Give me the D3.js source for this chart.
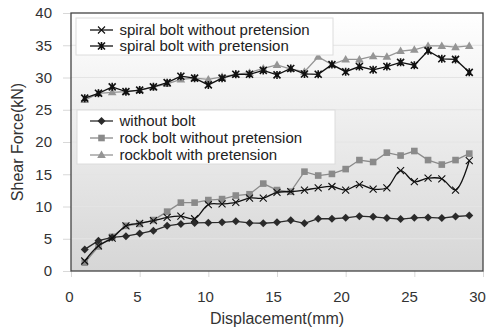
<!DOCTYPE html>
<html><head><meta charset="utf-8">
<script src="https://cdn.jsdelivr.net/npm/d3@7"></script>
<style>
html,body{margin:0;padding:0;background:#fff;}
svg{display:block;font-family:"Liberation Sans",Arial,sans-serif;}
</style></head>
<body><svg id="chart" width="490" height="329"></svg>
<script>
const displacement = [1,2,3,4,5,6,7,8,9,10,11,12,13,14,15,16,17,18,19,20,21,22,23,24,25,26,27,28,29];
const spiralWithout = [1.55,3.9,5.1,7.0,7.4,7.8,8.3,8.5,8.1,10.3,10.4,10.65,11.3,11.3,12.2,12.3,12.55,12.9,13.1,12.55,13.4,12.7,12.9,15.55,13.85,14.4,14.3,12.55,17.1];
const spiralWith = [26.8,27.55,28.55,27.8,28.05,28.55,29.2,30.2,29.9,28.85,29.9,30.5,30.5,31.1,30.4,31.4,30.55,30.5,32.0,30.9,31.7,31.2,31.7,32.35,31.9,34.15,32.9,32.8,30.8];
const withoutBolt = [3.35,4.7,5.2,5.4,5.8,6.25,7.0,7.3,7.45,7.5,7.55,7.7,7.45,7.4,7.55,7.85,7.4,8.1,8.1,8.25,8.5,8.4,8.2,8.05,8.25,8.3,8.2,8.45,8.6];
const rockWithout = [1.3,3.8,5.3,7.0,7.3,7.9,9.2,10.6,10.6,11.0,11.15,11.7,11.9,13.55,12.55,12.3,15.4,14.8,15.05,15.8,17.2,16.9,18.35,17.9,18.6,17.2,16.5,17.2,18.2];
const rockWith = [26.5,27.55,27.7,27.8,28.05,28.5,29.0,29.7,29.9,29.7,30.1,30.5,30.75,31.4,31.95,31.3,30.9,33.2,32.0,32.8,32.8,33.3,33.2,34.1,34.3,34.9,34.9,34.7,34.9];
const xTicks = [0,5,10,15,20,25,30];
const yTicks = [0,5,10,15,20,25,30,35,40];
const legendTop = ["spiral bolt without pretension","spiral bolt with pretension"];
const legendBottom = ["without bolt","rock bolt without pretension","rockbolt with pretension"];

const svg = d3.select("#chart");
const L=71, R=483, T=13, B=271;
const x = d3.scaleLinear().domain([0,30]).range([L,R]);
const y = d3.scaleLinear().domain([0,40]).range([B,T]);

const defs = svg.append("defs");
const grad = defs.append("linearGradient").attr("id","bg").attr("x1",0).attr("y1",0).attr("x2",0).attr("y2",1);
grad.append("stop").attr("offset","0%").attr("stop-color","#ffffff");
grad.append("stop").attr("offset","100%").attr("stop-color","#d6d6d6");

svg.append("rect").attr("x",L).attr("y",T).attr("width",R-L).attr("height",B-T).attr("fill","url(#bg)");

// gridlines
svg.append("g").selectAll("line").data(yTicks.filter(d=>d>0&&d<40)).join("line")
  .attr("x1",L).attr("x2",R).attr("y1",d=>y(d)).attr("y2",d=>y(d))
  .attr("stroke","#e4e4e4").attr("stroke-width",1);

// axes
const yAxis = d3.axisLeft(y).tickValues(yTicks).tickSize(8).tickPadding(8);
const gy = svg.append("g").attr("transform",`translate(${L},0)`).call(yAxis);
gy.select(".domain").remove();
gy.selectAll(".tick line").attr("stroke","#d8d8d8");
gy.selectAll(".tick text").attr("font-size",15).attr("fill","#333").attr("font-family","Liberation Sans, Arial, sans-serif").attr("dx",-3);

const xAxis = d3.axisBottom(x).tickValues(xTicks).tickSize(6).tickPadding(14);
const gx = svg.append("g").attr("transform",`translate(0,${B})`).call(xAxis);
gx.select(".domain").remove();
gx.selectAll(".tick line").attr("stroke","#d8d8d8");
gx.selectAll(".tick text").attr("font-size",15).attr("fill","#333").attr("font-family","Liberation Sans, Arial, sans-serif")
  .attr("dx",d=>-2 - d/30*4);

// frame
svg.append("rect").attr("x",L).attr("y",T).attr("width",R-L).attr("height",B-T)
  .attr("fill","none").attr("stroke","#444").attr("stroke-width",1.3);

// axis titles
svg.append("text").attr("x",277).attr("y",324).attr("text-anchor","middle")
  .attr("font-size",16).attr("fill","#333").text("Displacement(mm)");
svg.append("text").attr("transform",`translate(23,${(T+B)/2}) rotate(-90)`).attr("text-anchor","middle")
  .attr("font-size",16).attr("fill","#333").text("Shear Force(kN)");

// marker painters
function marker(g, type, cx, cy, color){
  if(type==="diamond"){
    g.append("path").attr("d",`M${cx},${cy-4}L${cx+4},${cy}L${cx},${cy+4}L${cx-4},${cy}Z`).attr("fill",color);
  } else if(type==="square"){
    g.append("rect").attr("x",cx-3.3).attr("y",cy-3.3).attr("width",6.6).attr("height",6.6).attr("fill",color);
  } else if(type==="triangle"){
    g.append("path").attr("d",`M${cx},${cy-4.5}L${cx+4.3},${cy+3}L${cx-4.3},${cy+3}Z`).attr("fill",color);
  } else if(type==="x"){
    g.append("path").attr("d",`M${cx-3.5},${cy-3.5}L${cx+3.5},${cy+3.5}M${cx-3.5},${cy+3.5}L${cx+3.5},${cy-3.5}`)
      .attr("stroke",color).attr("stroke-width",1.1).attr("fill","none");
  } else if(type==="star"){
    g.append("path").attr("d",`M${cx-3.5},${cy-3.5}L${cx+3.5},${cy+3.5}M${cx-3.5},${cy+3.5}L${cx+3.5},${cy-3.5}M${cx},${cy-4}L${cx},${cy+4}M${cx-2},${cy}L${cx+2},${cy}`)
      .attr("stroke",color).attr("stroke-width",1.6).attr("fill","none");
  }
}

const series = [
  {vals: rockWithout, color:"#8a8a8a", type:"square", curve:d3.curveLinear},
  {vals: rockWith, color:"#959595", type:"triangle", curve:d3.curveLinear},
  {vals: withoutBolt, color:"#2a2a2a", type:"diamond", curve:d3.curveLinear},
  {vals: spiralWithout, color:"#111", type:"x", curve:d3.curveCatmullRom.alpha(0.5)},
  {vals: spiralWith, color:"#111", type:"star", curve:d3.curveLinear}
];
series.forEach(s=>{
  const g = svg.append("g");
  const line = d3.line().x((d,i)=>x(displacement[i])).y(d=>y(d)).curve(s.curve);
  g.append("path").datum(s.vals).attr("d",line).attr("fill","none").attr("stroke",s.color).attr("stroke-width",1.3);
  s.vals.forEach((v,i)=>marker(g,s.type,x(displacement[i]),y(v),s.color));
});

// legends
function legend(box, items, types, colors, rowY){
  svg.append("rect").attr("x",box[0]).attr("y",box[1]).attr("width",box[2]).attr("height",box[3])
    .attr("fill","#fff").attr("stroke","#dcdcdc").attr("stroke-width",1);
  items.forEach((t,i)=>{
    const g = svg.append("g");
    const yy = rowY[i];
    g.append("line").attr("x1",90).attr("x2",113).attr("y1",yy).attr("y2",yy).attr("stroke",colors[i]).attr("stroke-width",1.3);
    marker(g, types[i], 101.5, yy, colors[i]);
    g.append("text").attr("x",119.5).attr("y",yy+5).attr("font-size",15).attr("fill","#222").text(t);
  });
}
legend([76,18,257,37], legendTop, ["x","star"], ["#111","#111"], [30,46]);
legend([77,110,258,54], legendBottom, ["diamond","square","triangle"], ["#2a2a2a","#8a8a8a","#959595"], [121,138,155]);
</script></body></html>
